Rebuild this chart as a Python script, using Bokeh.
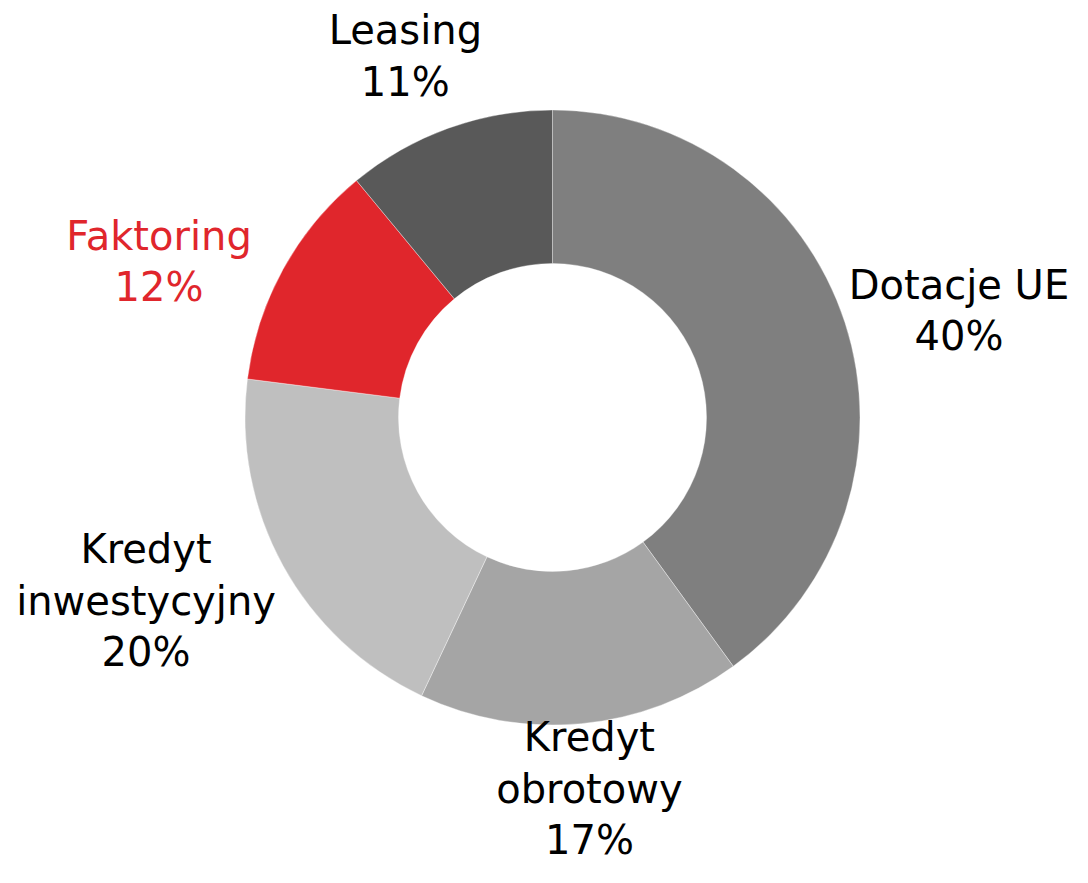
import math
from bokeh.plotting import figure
from bokeh.models import ColumnDataSource, Range1d
from bokeh.core.properties import value
from bokeh.embed import file_html
from bokeh.resources import INLINE

# ---- data ----
categories = ["Dotacje UE", "Kredyt obrotowy", "Kredyt inwestycyjny", "Faktoring", "Leasing"]
label_texts = ["Dotacje UE", "Kredyt\nobrotowy", "Kredyt\ninwestycyjny", "Faktoring", "Leasing"]
shares = [40, 17, 20, 12, 11]
colors = ["#7f7f7f", "#a5a5a5", "#bfbfbf", "#e0262c", "#595959"]
text_colors = ["#000000", "#000000", "#000000", "#e0262c", "#000000"]

# ---- layout (pixels) ----
W, H = 1072, 867
CX, CY = 552, 417          # donut centre, pixels from top-left of the figure
R_OUT, R_IN = 307.5, 154
# label nudges relative to the outer rim at the slice's mid angle (dx right, dy down)
label_nudge = [(114, -12), (8, 65), (-137, 35), (-124, -8), (-43, -72)]

total = float(sum(shares))
starts, ends, lx, ly, labels = [], [], [], [], []
cum = 0.0
for i, s in enumerate(shares):
    a0 = math.pi / 2 - 2 * math.pi * cum / total
    cum += s
    a1 = math.pi / 2 - 2 * math.pi * cum / total
    starts.append(a1)
    ends.append(a0)
    mid = (a0 + a1) / 2
    dx, dy = label_nudge[i]
    lx.append(R_OUT * math.cos(mid) + dx)
    ly.append(R_OUT * math.sin(mid) - dy)
    labels.append(f"{label_texts[i]}\n{round(100 * s / total)}%")

src = ColumnDataSource(dict(cat=categories, start=starts, end=ends, color=colors,
                            lx=lx, ly=ly, label=labels, tcolor=text_colors))

p = figure(width=W, height=H, output_backend="svg", toolbar_location=None,
           x_range=Range1d(-CX, W - CX), y_range=Range1d(-(H - CY), CY),
           x_axis_location=None, y_axis_location=None, min_border=0,
           outline_line_color=None, background_fill_color="white",
           border_fill_color="white")
p.xgrid.visible = False
p.ygrid.visible = False

p.annular_wedge(x=0, y=0, inner_radius=R_IN, outer_radius=R_OUT,
                start_angle="start", end_angle="end", fill_color="color",
                line_color="white", line_width=0.6, line_alpha=0.6, source=src)

p.text(x="lx", y="ly", text="label", text_color="tcolor", source=src,
       text_font=value("DejaVu Sans"), text_font_size="40px",
       text_align="center", text_baseline="middle", text_line_height=1.12)

open("out.html", "w").write(file_html(p, INLINE))
